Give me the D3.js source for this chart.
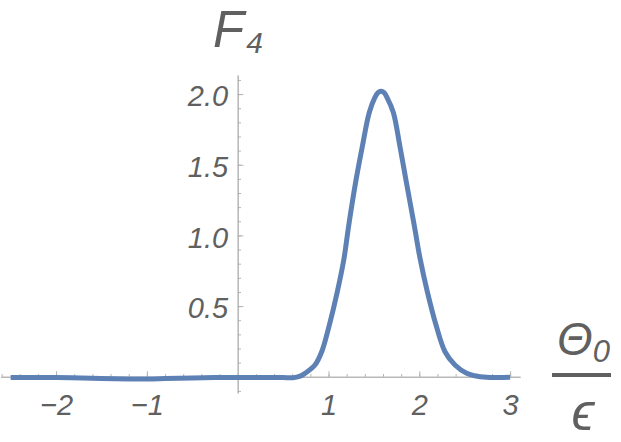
<!DOCTYPE html>
<html>
<head>
<meta charset="utf-8">
<script src="https://cdn.jsdelivr.net/npm/d3@7"></script>
<style>
  body { margin: 0; background: #fff; }
  text { font-family: "Liberation Sans", Arial, sans-serif; font-style: italic; fill: #606060; }
</style>
</head>
<body>
<svg id="chart" width="621" height="442"></svg>
<script>
// values
let thetaVals = [-2.5, -2.0, -1.5, -1.2, -1.0, -0.8, -0.5, 0, 0.3, 0.5, 0.61, 0.68, 0.741, 0.851, 0.925, 1.009, 1.097, 1.171, 1.222, 1.303, 1.372, 1.449, 1.51, 1.545, 1.578, 1.612, 1.645, 1.714, 1.787, 1.853, 1.945, 2.008, 2.088, 2.184, 2.283, 2.393, 2.522, 2.61, 2.74, 3.0];
let f4Vals = [-0.005, -0.006, -0.012, -0.016, -0.016, -0.013, -0.008, -0.005, -0.005, -0.006, -0.007, 0.002, 0.024, 0.083, 0.177, 0.366, 0.602, 0.838, 1.068, 1.392, 1.628, 1.87, 1.975, 2.01, 2.02, 2.01, 1.975, 1.87, 1.628, 1.392, 1.068, 0.838, 0.602, 0.366, 0.177, 0.083, 0.024, 0.007, -0.004, -0.004];

let xMajor = [-2, -1, 1, 2, 3];
let xLabels = ['\u22122', '\u22121', '1', '2', '3'];
let yMajor = [0.5, 1.0, 1.5, 2.0];
let yLabels = ['0.5', '1.0', '1.5', '2.0'];

let lineColor = '#5e81b5';
let axisColor = '#b3b3b3';

let svg = d3.select('#chart');

//scales
let x = d3.scaleLinear().domain([-2.61, 3.11]).range([0.7, 520.1]);
let y = d3.scaleLinear().domain([-0.115, 2.135]).range([393, 75]);

//x axis: minor ticks then major ticks with labels
svg.append('g')
  .attr('transform', 'translate(0,' + y(0) + ')')
  .call(d3.axisBottom(x).tickValues(d3.range(-26, 31, 2).map(d => d / 10))
    .tickSizeInner(-2.7).tickSizeOuter(0).tickFormat(''));

let xAxis = svg.append('g')
  .attr('transform', 'translate(0,' + y(0) + ')')
  .call(d3.axisBottom(x).tickValues(xMajor)
    .tickSizeInner(-5.5).tickSizeOuter(0).tickPadding(18)
    .tickFormat((d, i) => xLabels[i]));

//y axis
svg.append('g')
  .attr('transform', 'translate(' + x(0) + ',0)')
  .call(d3.axisLeft(y).tickValues(d3.range(-1, 22).map(d => d / 10))
    .tickSizeInner(-3.3).tickSizeOuter(0).tickFormat(''));

let yAxis = svg.append('g')
  .attr('transform', 'translate(' + x(0) + ',0)')
  .call(d3.axisLeft(y).tickValues(yMajor)
    .tickSizeInner(-5.7).tickSizeOuter(0).tickPadding(9.5)
    .tickFormat((d, i) => yLabels[i]));

svg.selectAll('.domain').attr('stroke', axisColor).attr('stroke-width', 1);
svg.selectAll('.tick line').attr('stroke', axisColor).attr('stroke-width', 1);
svg.selectAll('.tick text')
  .attr('font-size', 29)
  .attr('font-family', '"Liberation Sans", Arial, sans-serif')
  .attr('font-style', 'italic')
  .attr('fill', '#606060');
yAxis.selectAll('.tick text').attr('dy', '0.4em');

//curve
let line = d3.line()
  .x((d, i) => x(thetaVals[i]))
  .y(d => y(d))
  .curve(d3.curveCatmullRom.alpha(0.5));

svg.append('path')
  .datum(f4Vals)
  .attr('d', line)
  .attr('fill', 'none')
  .attr('stroke', lineColor)
  .attr('stroke-width', 5)
  .attr('stroke-linejoin', 'round');

//axis labels
let yTitle = svg.append('text').attr('x', 213).attr('y', 47);
yTitle.append('tspan').attr('font-size', 51).text('F');
yTitle.append('tspan').attr('font-size', 30).attr('dy', 6).attr('dx', 2).text('4');

let xTitle = svg.append('text').attr('x', 557).attr('y', 355);
xTitle.append('tspan').attr('font-size', 46).text('\u0398');
xTitle.append('tspan').attr('font-size', 31).attr('dy', 7).text('0');

svg.append('line')
  .attr('x1', 552).attr('x2', 611)
  .attr('y1', 375).attr('y2', 375)
  .attr('stroke', '#606060').attr('stroke-width', 4);

svg.append('text')
  .attr('x', 583).attr('y', 430)
  .attr('text-anchor', 'middle')
  .attr('font-size', 52)
  .text('\u03f5');
</script>
</body>
</html>
